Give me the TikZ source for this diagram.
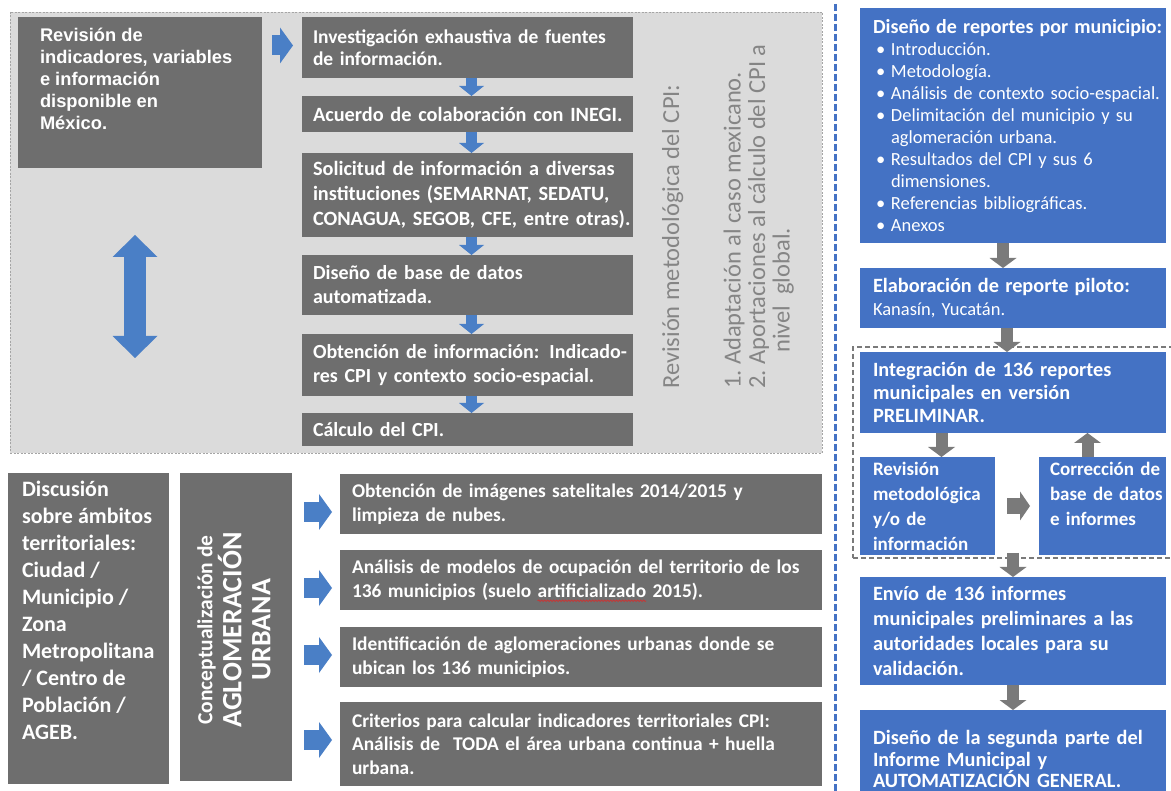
\documentclass[tikz,border=0pt]{standalone}
\usepackage{fontspec}
\setmainfont{Carlito}
\newfontfamily\arialf{Liberation Sans}
\usetikzlibrary{arrows.meta,fit,calc,decorations.pathmorphing}
\definecolor{dgray}{HTML}{6E6E6E}
\definecolor{panelgray}{HTML}{DBDBDB}
\definecolor{panelline}{HTML}{A5A5A5}
\definecolor{bluebox}{HTML}{4472C4}
\definecolor{bluearr}{HTML}{4A7FC6}
\definecolor{grayarr}{HTML}{7A7A7A}
\definecolor{rottext}{HTML}{858585}
\definecolor{squigred}{HTML}{D03030}
\newcommand\fs[2]{\fontsize{#1pt}{#2pt}\selectfont}
\newcommand\lpad[1]{\leftskip=#1pt\rightskip=0pt plus 1fil\parfillskip=0pt plus 1fil\parindent=0pt\hyphenpenalty=10000\exhyphenpenalty=10000\relax}
\newcommand\bt[2]{\lpad{#1}#2\par}
\newcommand\bl{\makebox[18pt][l]{\hspace*{3pt}•}}
\newlength\sqw
\newcommand\squig[1]{\settowidth{\sqw}{#1}#1\tikz[overlay,baseline=0pt,x=1pt,y=1pt]\draw[squigred, line width=0.7pt, decorate, decoration={snake,amplitude=0.8pt,segment length=3pt}] (-\sqw,-3.5pt) -- (0pt,-3.5pt);}
\begin{document}
\begin{tikzpicture}[x=1pt,y=-1pt,
  box/.style={anchor=north west, inner sep=0pt, outer sep=0pt, text=white, font=\bfseries\fs{20}{24}},
  gbox/.style={box, fill=dgray},
  bbox/.style={box, fill=bluebox},
  barrow/.style={draw=bluearr, line width=20pt, -{Triangle[width=36pt,length=13pt,line width=0pt]}},
  marrow/.style={draw=bluearr, line width=11pt, -{Triangle[width=25pt,length=10pt,line width=0pt]}},
  garrow/.style={draw=grayarr, line width=12pt, -{Triangle[width=27pt,length=10pt,line width=0pt]}},
  harrow/.style={draw=grayarr, line width=16pt, -{Triangle[width=29pt,length=10pt,line width=0pt]}},
]
\useasboundingbox (0,0) rectangle (1171,791);
\fill[white] (0,0) rectangle (1171,791);

% ---------- top panel ----------
\node[fit={(10,12) (822,453)}, inner sep=0pt, fill=panelgray, draw=panelline, line width=0.9pt, dash pattern=on 2pt off 1.5pt] (panel) {};

\node[gbox, font=\arialf\bfseries\fs{18.3}{22}, inner ysep=11pt] (tl) at (18,17)
  {\parbox[c][129pt][t]{244pt}{\lpad{22}Revisión de\\indicadores, variables\\e información\\disponible en\\México.}};

\node[gbox, text width=331pt, minimum height=61pt, font=\bfseries\fs{19.5}{22}] (m1) at (302,17) {\bt{11}{Investigación exhaustiva de fuentes\\de información.}};
\node[gbox, text width=331pt, minimum height=36pt, font=\bfseries\fs{20.3}{24}] (m2) at (302,96) {\bt{11}{Acuerdo de colaboración con INEGI.}};
\node[gbox, text width=331pt, minimum height=84pt, font=\bfseries\fs{20.3}{25}] (m3) at (302,153) {\bt{11}{Solicitud de información a diversas\\instituciones (SEMARNAT, SEDATU,\\CONAGUA, SEGOB, CFE, entre otras).}};
\node[gbox, text width=331pt, minimum height=60pt] (m4) at (302,255) {\bt{11}{Diseño de base de datos\\automatizada.}};
\node[gbox, text width=331pt, minimum height=62pt] (m5) at (302,334) {\bt{11}{Obtención de información: Indicado-\\res CPI y contexto socio-espacial.}};
\node[gbox, text width=331pt, minimum height=33pt] (m6) at (302,413) {\bt{11}{Cálculo del CPI.}};

\node[rotate=90, anchor=north west, inner sep=0pt, text=rottext, align=left, font=\fs{24.5}{24.5}] (rev) at (662,389)
  {Revisión metodológica del CPI:\\[37pt]\makebox[24pt][l]{1.}Adaptación al caso mexicano.\\\makebox[24pt][l]{2.}Aportaciones al cálculo del CPI a\\\hspace*{36pt}nivel\ \ global.};

\coordinate (da1) at (135,235);
\coordinate (da2) at (135,358);
\draw[draw=bluearr, line width=22pt, {Triangle[width=45pt,length=22pt,line width=0pt]}-{Triangle[width=45pt,length=22pt,line width=0pt]}] (da1) -- (da2);

% ---------- bottom left ----------
\node[gbox, font=\bfseries\fs{22}{27}, inner ysep=8pt] (disc) at (8,473)
  {\parbox[c][295pt][t]{161pt}{\lpad{14}Discusión\\sobre ámbitos\\territoriales:\\Ciudad /\\Municipio /\\Zona\\Metropolitana\\/ Centro de\\Población /\\AGEB.}};
\node[gbox, minimum width=112pt, minimum height=308pt] (conc) at (180,473) {};
\node[rotate=90, text=white, align=center, inner sep=0pt, font=\bfseries\fs{28}{29}] (conctxt) at (234,630)
  {{\fs{21.5}{29}Conceptualización de}\\AGLOMERACIÓN\\URBANA};

\node[gbox, text width=482pt, minimum height=60pt, font=\bfseries\fs{19.4}{24}] (bb1) at (340,474) {\bt{12}{Obtención de imágenes satelitales 2014/2015 y\\limpieza de nubes.}};
\node[gbox, text width=482pt, minimum height=60pt, font=\bfseries\fs{19.4}{24}] (bb2) at (340,550) {\bt{12}{Análisis de modelos de ocupación del territorio de los\\136 municipios (suelo \squig{artificializado} 2015).}};
\node[gbox, text width=482pt, minimum height=60pt, font=\bfseries\fs{19.4}{24}] (bb3) at (340,627) {\bt{12}{Identificación de aglomeraciones urbanas donde se\\ubican los 136 municipios.}};
\node[gbox, text width=482pt, minimum height=84pt, font=\bfseries\fs{19.4}{23.5}] (bb4) at (340,702) {\bt{12}{Criterios para calcular indicadores territoriales CPI:\\Análisis de\ \ TODA el área urbana continua + huella\\urbana.}};

% ---------- right column ----------
\coordinate (vt) at (835,4);
\coordinate (vb) at (835,795);
\draw[bluebox, line width=3pt, dash pattern=on 7pt off 3pt] (vt) -- (vb);

\node[fit={(853,347) (1180,558)}, inner sep=0pt, draw=grayarr, line width=1.6pt, dash pattern=on 5pt off 3pt] (grp) {};

\node[bbox, text width=306pt, minimum height=235pt, font=\fs{18.5}{22}] (r1) at (860,8)
  {\bt{13}{\mbox{\bfseries\fs{20}{22}Diseño de reportes por municipio:}\\\bl Introducción.\\\bl Metodología.\\\bl \mbox{Análisis de contexto socio-espacial.}\\\bl Delimitación del municipio y su\\\hspace*{18pt}aglomeración urbana.\\\bl Resultados del CPI y sus 6\\\hspace*{18pt}dimensiones.\\\bl Referencias bibliográficas.\\\bl Anexos}};
\node[bbox, text width=306pt, minimum height=60pt, font=\fs{18.5}{23}] (r2) at (860,268)
  {\bt{13}{{\bfseries\fs{20.3}{23}Elaboración de reporte piloto:}\\Kanasín, Yucatán.}};
\node[bbox, text width=306pt, minimum height=81pt, font=\bfseries\fs{20.3}{23}] (r3) at (860,352)
  {\bt{13}{Integración de 136 reportes\\municipales en versión\\PRELIMINAR.}};
\node[bbox, text width=135pt, minimum height=98pt, font=\bfseries\fs{19}{25}] (r4) at (860,457)
  {\bt{13}{Revisión\\metodológica\\y/o de\\información}};
\node[bbox, text width=127pt, minimum height=98pt, font=\bfseries\fs{19}{25}] (r5) at (1039,457)
  {\bt{11}{Corrección de\\base de datos\\e informes\\\mbox{}}};
\node[bbox, text width=306pt, minimum height=108pt, font=\bfseries\fs{20.3}{25}] (r6) at (860,577)
  {\bt{13}{Envío de 136 informes\\municipales preliminares a las\\autoridades locales para su\\validación.}};
\node[bbox, text width=306pt, minimum height=98pt, font=\bfseries\fs{20.3}{21.5}] (r7) at (860,710)
  {\bt{13}{Diseño de la segunda parte del\\Informe Municipal y\\AUTOMATIZACIÓN GENERAL.}};

% ---------- connectors ----------
\coordinate (c0) at ($(m1.west)+(0,-2)$);
\draw[barrow, shorten <=10pt, shorten >=9pt] (tl.east |- c0) -- (c0);
\draw[marrow] ([xshift=4pt]m1.south) -- ([xshift=4pt]m2.north);
\draw[marrow] ([xshift=4pt]m2.south) -- ([xshift=4pt]m3.north);
\draw[marrow] ([xshift=4pt]m3.south) -- ([xshift=4pt]m4.north);
\draw[marrow] ([xshift=4pt]m4.south) -- ([xshift=4pt]m5.north);
\draw[marrow] ([xshift=4pt]m5.south) -- ([xshift=4pt]m6.north);

\coordinate (c1) at ($(bb1.west)+(0,8)$);
\coordinate (c2) at ($(bb2.west)+(0,8)$);
\coordinate (c3) at ($(bb3.west)+(0,-2)$);
\coordinate (c4) at ($(bb4.west)+(0,-4)$);
\draw[barrow, shorten <=12pt, shorten >=8pt] (conc.east |- c1) -- (c1);
\draw[barrow, shorten <=12pt, shorten >=8pt] (conc.east |- c2) -- (c2);
\draw[barrow, shorten <=12pt, shorten >=8pt] (conc.east |- c3) -- (c3);
\draw[barrow, shorten <=12pt, shorten >=8pt] (conc.east |- c4) -- (c4);

\draw[garrow] ([xshift=-10pt]r1.south) -- ([xshift=-10pt]r2.north);
\draw[garrow] ([xshift=-6pt]r2.south) -- ([xshift=-6pt]r3.north);
\coordinate (a34) at ($(r4.north)+(14,0)$);
\draw[garrow] (a34 |- r3.south) -- (a34);
\coordinate (a53) at ($(r5.north)+(-15,0)$);
\draw[garrow] (a53) -- (a53 |- r3.south);
\draw[harrow, shorten <=12pt, shorten >=9pt] (r4.east) -- (r5.west);
\draw[garrow, shorten <=-6pt] (grp.south -| r6.north) -- (r6.north);
\draw[garrow] (r6.south) -- (r7.north);
\end{tikzpicture}
\end{document}
